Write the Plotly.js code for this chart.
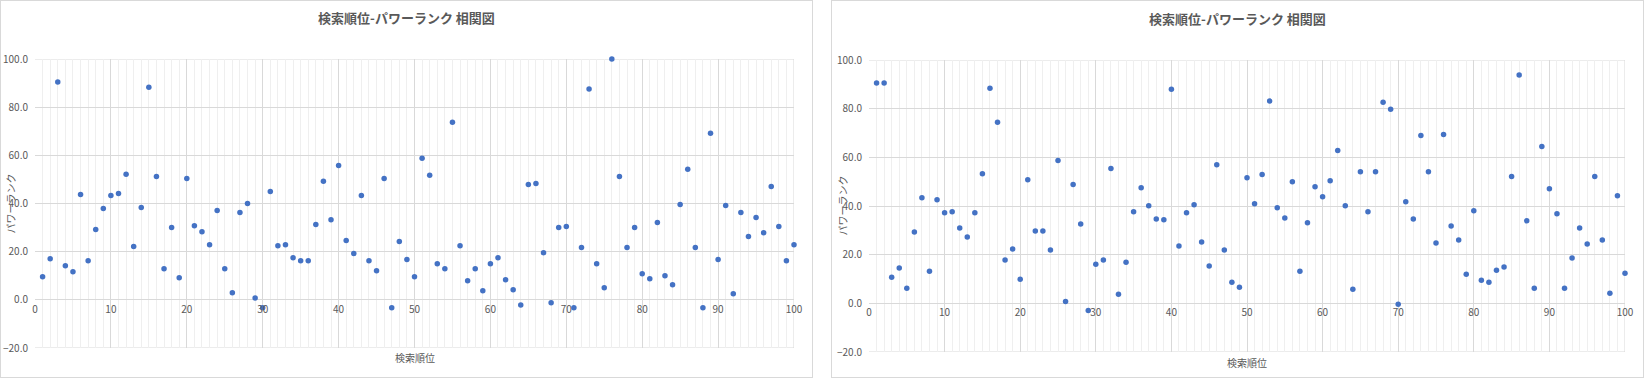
<!DOCTYPE html>
<html>
<head>
<meta charset="utf-8">
<script src="https://cdn.plot.ly/plotly-3.0.1.min.js"></script>
<style>
  html, body { margin: 0; padding: 0; background: #ffffff; }
  body { width: 1645px; height: 379px; position: relative; overflow: hidden; }
  .chart { position: absolute; top: 0; box-sizing: border-box; border: 1px solid #D9D9D9; height: 378px; width: 813px; background: #fff; }
  #c1 { left: 0; }
  #c2 { left: 831px; }
</style>
</head>
<body>
<div id="c1" class="chart"></div>
<div id="c2" class="chart"></div>
<script>
const chartTitle = "検索順位-パワーランク 相関図";
const xTitle = "検索順位";
const yTitle = "パワーランク";

const ranks = [1,2,3,4,5,6,7,8,9,10,11,12,13,14,15,16,17,18,19,20,
  21,22,23,24,25,26,27,28,29,30,31,32,33,34,35,36,37,38,39,40,
  41,42,43,44,45,46,47,48,49,50,51,52,53,54,55,56,57,58,59,60,
  61,62,63,64,65,66,67,68,69,70,71,72,73,74,75,76,77,78,79,80,
  81,82,83,84,85,86,87,88,89,90,91,92,93,94,95,96,97,98,99,100];

const powerLeft = [9.6,17.1,90.4,14.2,11.7,43.75,16.25,29.2,37.9,43.3,
  44.2,52.1,22.1,38.3,88.3,51.25,12.9,30.0,9.2,50.4,
  30.8,28.3,22.9,37.1,12.9,2.9,36.25,40.0,0.8,-3.3,
  45.0,22.5,22.9,17.5,16.25,16.25,31.25,49.2,33.3,55.8,
  24.6,19.2,43.3,16.25,12.1,50.4,-3.3,24.2,16.7,9.6,
  58.75,51.7,15.0,12.9,73.75,22.5,7.9,12.9,3.75,15.0,
  17.5,8.3,4.2,-2.1,47.9,48.3,19.6,-1.25,30.0,30.4,
  -3.3,21.7,87.5,15.0,5.0,100,51.25,21.7,30.0,10.8,
  8.75,32.1,10.0,6.25,39.6,54.2,21.7,-3.3,69.2,16.7,
  39.2,2.5,36.25,26.25,34.2,27.9,47.1,30.4,16.25,22.9];

const powerRight = [90.5,90.5,10.7,14.5,6.2,29.3,43.4,13.2,42.6,37.2,
  37.6,31.0,27.3,37.2,53.3,88.4,74.4,17.8,22.3,9.9,
  50.8,29.75,29.75,21.9,58.7,0.8,48.8,32.6,-2.9,16.1,
  17.8,55.4,3.7,16.9,37.6,47.5,40.1,34.7,34.3,88.0,
  23.55,37.2,40.5,25.2,15.3,57.0,21.9,8.7,6.6,51.65,
  40.9,52.9,83.1,39.3,35.1,50.0,13.2,33.1,47.9,43.8,
  50.4,62.8,40.1,5.8,54.1,37.6,54.1,82.6,79.75,-0.4,
  41.7,34.7,69.0,54.1,24.8,69.4,31.8,26.0,12.0,38.0,
  9.5,8.7,13.6,14.9,52.1,93.8,33.9,6.2,64.5,47.1,
  36.8,6.2,18.6,30.95,24.4,52.1,26.0,4.1,44.2,12.4];

const FONT = '"Noto Sans CJK JP", "Noto Sans", sans-serif';
const GREY = '#595959';

function draw(id, yvals, m, titleY, yTitleShift, xTitleShift) {
  const trace = {
    type: 'scatter', mode: 'markers',
    x: ranks, y: yvals,
    cliponaxis: false,
    marker: { color: '#4472C4', size: 5.5 },
    hoverinfo: 'x+y'
  };
  const layout = {
    width: 811, height: 376,
    margin: m,
    paper_bgcolor: '#ffffff', plot_bgcolor: '#ffffff',
    showlegend: false,
    font: { family: FONT, color: GREY, size: 10 },
    title: {
      text: '<b>' + chartTitle + '</b>',
      font: { family: FONT, size: 13, color: GREY },
      x: 0.5, xanchor: 'center', xref: 'container',
      y: titleY, yanchor: 'middle', yref: 'container'
    },
    xaxis: {
      range: [0, 100], tick0: 0, dtick: 10,
      anchor: 'free', position: 20 / 120,
      showgrid: true, gridcolor: '#D9D9D9', gridwidth: 1,
      minor: { dtick: 1, tick0: 0, showgrid: true, gridcolor: '#EFEFEF', gridwidth: 1 },
      zeroline: false, showline: false, ticks: '',
      tickfont: { family: FONT, size: 10, color: GREY },
      ticklabelstandoff: 2,
      fixedrange: true
    },
    yaxis: {
      range: [-20, 100], tick0: -20, dtick: 20, tickformat: '.1f',
      domain: [0, 1],
      showgrid: true, gridcolor: '#D9D9D9', gridwidth: 1,
      zeroline: false, showline: false, ticks: '',
      tickfont: { family: FONT, size: 10, color: GREY },
      ticklabelstandoff: 6,
      fixedrange: true
    },
    shapes: [
      { type: 'line', xref: 'x', yref: 'paper', x0: 100, x1: 100, y0: 0, y1: 1, line: { color: '#D9D9D9', width: 1 }, layer: 'below' },
      { type: 'line', xref: 'paper', yref: 'y', x0: 0, x1: 1, y0: -20, y1: -20, line: { color: '#D9D9D9', width: 1 }, layer: 'below' },
      { type: 'line', xref: 'paper', yref: 'y', x0: 0, x1: 1, y0: 100, y1: 100, line: { color: '#D9D9D9', width: 1 }, layer: 'below' }
    ],
    annotations: [
      { text: yTitle, xref: 'paper', yref: 'paper', x: 0, y: 0.5, xanchor: 'center', yanchor: 'middle',
        xshift: yTitleShift, textangle: -90, showarrow: false,
        font: { family: FONT, size: 10, color: GREY } },
      { text: xTitle, xref: 'paper', yref: 'paper', x: 0.5, y: 0, xanchor: 'center', yanchor: 'middle',
        yshift: xTitleShift, showarrow: false,
        font: { family: FONT, size: 10, color: GREY } }
    ]
  };
  Plotly.newPlot(id, [trace], layout, { displayModeBar: false, staticPlot: true });
}

draw('c1', powerLeft, { l: 34.3, r: 17.7, t: 58.3, b: 28.7, pad: 0 }, 1 - 17 / 376, -25, -9.5);
draw('c2', powerRight, { l: 37.3, r: 18, t: 59.3, b: 25.3, pad: 0 }, 1 - 18.5 / 376, -27.5, -10);
</script>
</body>
</html>
